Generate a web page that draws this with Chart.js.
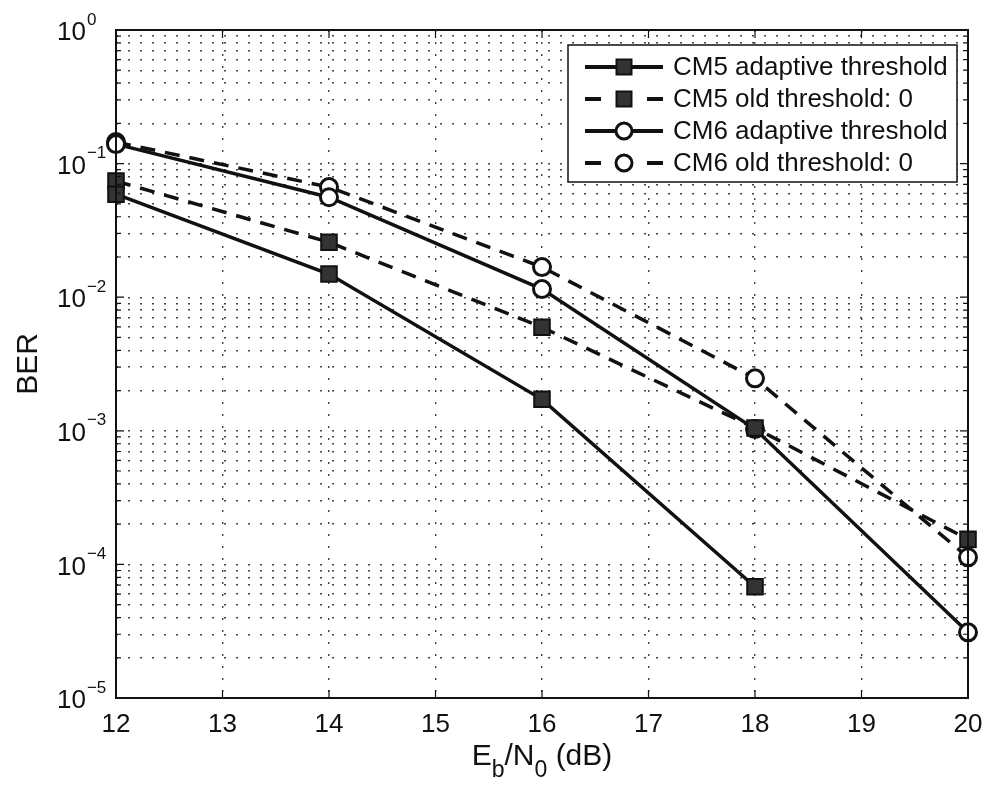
<!DOCTYPE html>
<html>
<head>
<meta charset="utf-8">
<script src="https://cdn.jsdelivr.net/npm/chart.js@4.4.0/dist/chart.umd.min.js"></script>
<style>
  html, body { margin: 0; padding: 0; background: #fff; }
  #wrap { width: 989px; height: 791px; }
</style>
</head>
<body>
<div id="wrap"><canvas id="berChart" width="989" height="791"></canvas></div>
<script>
// Eb/N0 points (dB)
const ebn0 = [12, 14, 16, 18, 20];
// BER values
const cm5Adaptive = [0.059, 0.0149, 0.00172, 6.8e-5, null];
const cm5Old = [0.074, 0.0258, 0.00596, 0.00105, 1.54e-4];
const cm6Adaptive = [0.14, 0.056, 0.0115, 0.00103, 3.1e-5];
const cm6Old = [0.145, 0.0667, 0.0168, 0.00247, 1.13e-4];
const seriesNames = ['CM5 adaptive threshold', 'CM5 old threshold: 0', 'CM6 adaptive threshold', 'CM6 old threshold: 0'];
const xTicks = [12, 13, 14, 15, 16, 17, 18, 19, 20];
const yExponents = [0, -1, -2, -3, -4, -5];

const FONT = '"Liberation Sans", Arial, Helvetica, sans-serif';
const INK = '#111';
const DASH = [15, 10];

function pts(arr) {
	return ebn0.map((x, i) => ({ x: x, y: arr[i] })).filter(p => p.y != null);
}

// all decade + minor ticks for the log axis
function logTicks() {
	const t = [];
	for (let e = -5; e <= 0; e++) {
		for (let m = 1; m <= 9; m++) {
			const v = m * Math.pow(10, e);
			if (v <= 1.0000001) t.push({ value: v });
		}
	}
	return t;
}

function drawMarker(ctx, style, x, y) {
	ctx.save();
	ctx.setLineDash([]);
	ctx.strokeStyle = INK;
	if (style === 'rect') {
		ctx.fillStyle = '#333';
		ctx.lineWidth = 2;
		ctx.fillRect(x - 7.5, y - 7.5, 15, 15);
		ctx.strokeRect(x - 7.5, y - 7.5, 15, 15);
	} else {
		ctx.fillStyle = '#fff';
		ctx.lineWidth = 3;
		ctx.beginPath();
		ctx.arc(x, y, 8, 0, Math.PI * 2);
		ctx.fill();
		ctx.stroke();
	}
	ctx.restore();
}

const legendStyles = [
	{ dash: [], marker: 'rect' },
	{ dash: DASH, marker: 'rect' },
	{ dash: [], marker: 'circle' },
	{ dash: DASH, marker: 'circle' }
];

const matlabFrame = {
	id: 'matlabFrame',
	afterDraw(chart) {
		const ctx = chart.ctx;
		const a = chart.chartArea;
		const xs = chart.scales.x;
		const ys = chart.scales.y;
		ctx.save();

		// inward tick marks on all four sides
		ctx.strokeStyle = INK;
		ctx.lineWidth = 1.2;
		ctx.beginPath();
		xs.ticks.forEach(t => {
			const px = xs.getPixelForValue(t.value);
			ctx.moveTo(px, a.bottom); ctx.lineTo(px, a.bottom - 8);
			ctx.moveTo(px, a.top); ctx.lineTo(px, a.top + 8);
		});
		ys.ticks.forEach(t => {
			const py = ys.getPixelForValue(t.value);
			const major = Math.abs(Math.log10(t.value) - Math.round(Math.log10(t.value))) < 1e-6;
			const len = major ? 8 : 5;
			ctx.moveTo(a.left, py); ctx.lineTo(a.left + len, py);
			ctx.moveTo(a.right, py); ctx.lineTo(a.right - len, py);
		});
		ctx.stroke();

		// axes box
		ctx.lineWidth = 2;
		ctx.strokeRect(a.left, a.top, a.right - a.left, a.bottom - a.top);

		// y tick labels 10^n
		ctx.fillStyle = INK;
		ctx.textBaseline = 'middle';
		ctx.textAlign = 'left';
		yExponents.forEach(e => {
			const py = ys.getPixelForValue(Math.pow(10, e));
			ctx.font = '26px ' + FONT;
			ctx.fillText('10', 57, py + 3);
			const w = ctx.measureText('10').width;
			ctx.font = '17px ' + FONT;
			ctx.fillText(e === 0 ? '0' : '\u2212' + (-e), 57 + w + 1, py - 10);
		});

		// x axis title E_b/N_0 (dB)
		const parts = [
			{ t: 'E', sub: false }, { t: 'b', sub: true }, { t: '/N', sub: false },
			{ t: '0', sub: true }, { t: ' (dB)', sub: false }
		];
		let total = 0;
		parts.forEach(p => {
			ctx.font = (p.sub ? '23px ' : '30px ') + FONT;
			p.w = ctx.measureText(p.t).width;
			total += p.w;
		});
		let cx = (a.left + a.right) / 2 - total / 2;
		ctx.textBaseline = 'alphabetic';
		parts.forEach(p => {
			ctx.font = (p.sub ? '23px ' : '30px ') + FONT;
			ctx.fillText(p.t, cx, p.sub ? 777 : 765);
			cx += p.w;
		});

		// legend box
		const lx = 568, ly = 45, lw = 389, lh = 137;
		ctx.fillStyle = '#fff';
		ctx.fillRect(lx, ly, lw, lh);
		ctx.strokeStyle = INK;
		ctx.lineWidth = 1.5;
		ctx.strokeRect(lx, ly, lw, lh);
		seriesNames.forEach((name, i) => {
			const ry = 67 + i * 32;
			const st = legendStyles[i];
			ctx.save();
			ctx.strokeStyle = INK;
			ctx.lineWidth = 4;
			ctx.beginPath();
			if (st.dash.length) {
				ctx.moveTo(585, ry); ctx.lineTo(601, ry);
				ctx.moveTo(647, ry); ctx.lineTo(663, ry);
			} else {
				ctx.moveTo(585, ry); ctx.lineTo(663, ry);
			}
			ctx.stroke();
			ctx.restore();
			drawMarker(ctx, st.marker, 624, ry);
			ctx.fillStyle = INK;
			ctx.font = '26px ' + FONT;
			ctx.textBaseline = 'middle';
			ctx.textAlign = 'left';
			ctx.fillText(name, 673, ry + 1);
		});

		ctx.restore();
	}
};

const chartArea = document.getElementById('berChart').getContext('2d');
const berChart = new Chart(chartArea, {
	type: 'line',
	data: {
		datasets: [{
			label: seriesNames[0],
			data: pts(cm5Adaptive),
			borderColor: INK,
			borderWidth: 3.5,
			pointStyle: 'rect',
			pointRadius: 11,
			pointBackgroundColor: '#333',
			pointBorderColor: INK,
			pointBorderWidth: 2,
			clip: false
		}, {
			label: seriesNames[1],
			data: pts(cm5Old),
			borderColor: INK,
			borderWidth: 3.5,
			borderDash: DASH,
			pointStyle: 'rect',
			pointRadius: 11,
			pointBackgroundColor: '#333',
			pointBorderColor: INK,
			pointBorderWidth: 2,
			clip: false
		}, {
			label: seriesNames[2],
			data: pts(cm6Adaptive),
			borderColor: INK,
			borderWidth: 3.5,
			pointStyle: 'circle',
			pointRadius: 8.5,
			pointBackgroundColor: '#fff',
			pointBorderColor: INK,
			pointBorderWidth: 3,
			clip: false
		}, {
			label: seriesNames[3],
			data: pts(cm6Old),
			borderColor: INK,
			borderWidth: 3.5,
			borderDash: DASH,
			pointStyle: 'circle',
			pointRadius: 8.5,
			pointBackgroundColor: '#fff',
			pointBorderColor: INK,
			pointBorderWidth: 3,
			clip: false
		}]
	},
	options: {
		responsive: false,
		animation: false,
		layout: { padding: { top: 30, right: 21, left: 0, bottom: 0 } },
		plugins: {
			legend: { display: false },
			tooltip: { enabled: false }
		},
		elements: { line: { tension: 0 } },
		scales: {
			x: {
				type: 'linear',
				min: 12,
				max: 20,
				afterBuildTicks: s => { s.ticks = xTicks.map(v => ({ value: v })); },
				afterFit: s => { s.height = 93; s.paddingLeft = 0; s.paddingRight = 0; },
				ticks: {
					color: INK,
					font: { family: FONT, size: 26 },
					padding: 11,
					maxRotation: 0,
					autoSkip: false
				},
				grid: {
					color: '#444',
					lineWidth: 1.4,
					drawTicks: false
				},
				border: { display: false, dash: [2, 10] }
			},
			y: {
				type: 'logarithmic',
				min: 1e-5,
				max: 1,
				afterBuildTicks: s => { s.ticks = logTicks(); },
				afterFit: s => { s.width = 116; s.paddingTop = 0; s.paddingBottom = 0; },
				ticks: { display: false, autoSkip: false },
				grid: {
					color: '#444',
					lineWidth: 1.4,
					drawTicks: false
				},
				border: { display: false, dash: [2, 10] },
				title: {
					display: true,
					text: 'BER',
					color: INK,
					font: { family: FONT, size: 30 },
					padding: { top: 11, bottom: 0 }
				}
			}
		}
	},
	plugins: [matlabFrame]
});
</script>
</body>
</html>
